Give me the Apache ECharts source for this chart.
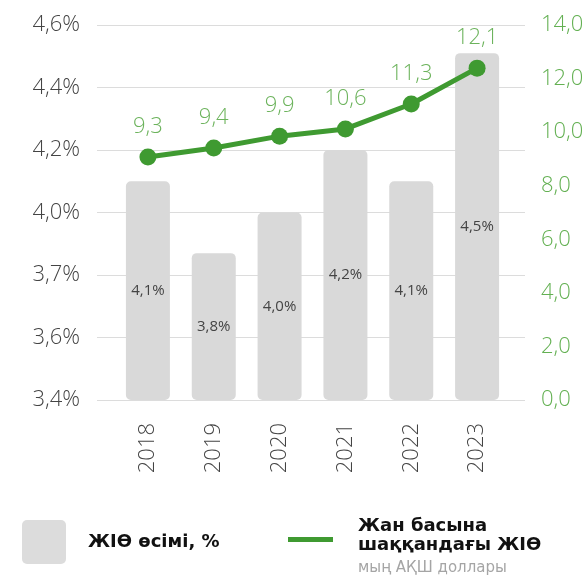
<!DOCTYPE html>
<html>
<head>
<meta charset="utf-8">
<script src="https://cdn.jsdelivr.net/npm/echarts@6/dist/echarts.min.js"></script>
<style>
  html, body { margin: 0; padding: 0; background: #fff; }
  #chart { width: 588px; height: 577px; }
</style>
</head>
<body>
<div id="chart"></div>
<script>
// years
var years = ['2018', '2019', '2020', '2021', '2022', '2023'];
// ЖІӨ өсімі, % (labels) and bar heights as drawn on the left scale
var growthPct = [4.1, 3.8, 4.0, 4.2, 4.1, 4.5];
var barLevel = [4.1, 3.87, 4.0, 4.2, 4.1, 4.51];
// Жан басына ЖІӨ, мың АҚШ доллары (labels) and point heights as drawn
var gdpPerCap = [9.3, 9.4, 9.9, 10.6, 11.3, 12.1];
var gdpLevel = [9.07, 9.41, 9.85, 10.12, 11.05, 12.39];
// left axis tick labels, as printed
var leftTicks = ['3,4%', '3,6%', '3,7%', '4,0%', '4,2%', '4,4%', '4,6%'];

var font = "'Open Sans', sans-serif";
var legendFont = "'DejaVu Sans', sans-serif";
var comma = function (v, d) { return v.toFixed(d).replace('.', ','); };

var chart = echarts.init(document.getElementById('chart'));

var option = {
  animation: false,
  textStyle: { fontFamily: font },
  grid: [
    { left: 115, right: 78, top: 25, bottom: 177 },
    // wider grid just for the horizontal rules
    { left: 97, right: 63, top: 25, bottom: 177 }
  ],
  xAxis: [
    {
      type: 'category', gridIndex: 0, data: years,
      axisLine: { show: false }, axisTick: { show: false },
      axisLabel: { rotate: 90, margin: 23, color: '#444', fontSize: 22, fontWeight: 300, fontFamily: font }
    },
    { type: 'value', gridIndex: 1, show: false, min: 0, max: 1 }
  ],
  yAxis: [
    {
      type: 'value', gridIndex: 0, min: 3.4, max: 4.6, interval: 0.2,
      axisLine: { show: false }, axisTick: { show: false }, splitLine: { show: false },
      axisLabel: {
        margin: 35, color: '#444', fontSize: 22, fontWeight: 300, fontFamily: font,
        formatter: function (v) { return leftTicks[Math.round((v - 3.4) / 0.2)]; }
      }
    },
    {
      type: 'value', gridIndex: 0, position: 'right', min: 0, max: 14, interval: 2,
      axisLine: { show: false }, axisTick: { show: false }, splitLine: { show: false },
      axisLabel: {
        margin: 31, color: '#63b052', fontSize: 22, fontWeight: 300, fontFamily: font,
        formatter: function (v) { return comma(v, 1); }
      }
    },
    {
      type: 'value', gridIndex: 1, min: 0, max: 6, interval: 1,
      axisLine: { show: false }, axisTick: { show: false }, axisLabel: { show: false },
      splitLine: { lineStyle: { color: '#dcdcdc', width: 1 } }
    }
  ],
  series: [
    {
      name: 'ЖІӨ өсімі, %', type: 'bar', xAxisIndex: 0, yAxisIndex: 0,
      barWidth: 44, z: 2,
      data: barLevel,
      itemStyle: { color: '#d9d9d9', borderRadius: 5 },
      label: {
        show: true, position: 'inside', color: '#444', fontSize: 15, fontFamily: font,
        formatter: function (p) { return comma(growthPct[p.dataIndex], 1) + '%'; }
      }
    },
    {
      name: 'Жан басына шаққандағы ЖІӨ', type: 'line', xAxisIndex: 0, yAxisIndex: 1,
      data: gdpLevel, z: 5,
      symbol: 'circle', symbolSize: 17,
      lineStyle: { color: '#3f9a31', width: 5 },
      itemStyle: { color: '#3f9a31' },
      label: {
        show: true, position: 'top', distance: 11, color: '#6cb35c', fontSize: 22, fontWeight: 300, fontFamily: font,
        formatter: function (p) { return comma(gdpPerCap[p.dataIndex], 1); }
      }
    }
  ],
  graphic: [
    { type: 'rect', left: 22, top: 520, shape: { width: 44, height: 44, r: 5 }, style: { fill: '#dcdcdc' } },
    { type: 'text', left: 88, top: 533, style: { text: 'ЖІӨ өсімі, %', font: 'bold 18px ' + legendFont, fill: '#111' } },
    { type: 'rect', left: 288, top: 537, shape: { width: 45, height: 5 }, style: { fill: '#3f9a31' } },
    { type: 'text', left: 358, top: 517, style: { text: 'Жан басына\nшаққандағы ЖІӨ', font: 'bold 18px ' + legendFont, lineHeight: 19, fill: '#111' } },
    { type: 'text', left: 358, top: 561, style: { text: 'мың АҚШ доллары', font: '15px ' + legendFont, fill: '#a5a5a5' } }
  ]
};

chart.setOption(option);
</script>
</body>
</html>
